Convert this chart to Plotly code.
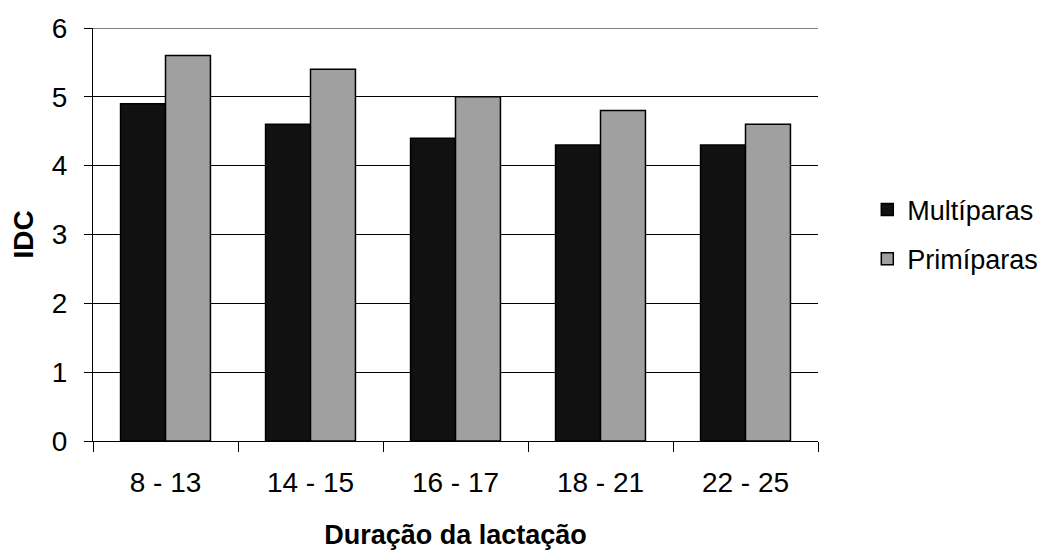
import plotly.graph_objects as go

categories = ["8 - 13", "14 - 15", "16 - 17", "18 - 21", "22 - 25"]
multiparas = [4.9, 4.6, 4.4, 4.3, 4.3]
primiparas = [5.6, 5.4, 5.0, 4.8, 4.6]
y_max = 6

FONT = "Liberation Sans, Arial, sans-serif"

fig = go.Figure()
fig.add_trace(go.Bar(x=categories, y=multiparas, name="Multíparas", legendgroup="m",
                     marker=dict(color="#111111", line=dict(color="#000000", width=1.5))))
fig.add_trace(go.Bar(x=categories, y=primiparas, name="Primíparas", legendgroup="p",
                     marker=dict(color="#a0a0a0", line=dict(color="#000000", width=1.5))))

# top gridline (plotly drops gridlines lying on the plot edge)
fig.add_shape(type="line", xref="paper", x0=0, x1=1, yref="y", y0=y_max, y1=y_max,
              line=dict(color="#000000", width=1), layer="below")

fig.update_layout(
    width=1037, height=542,
    margin=dict(l=85, r=227, t=20, b=109, autoexpand=False),
    paper_bgcolor="white", plot_bgcolor="white",
    barmode="group", bargap=0.38, bargroupgap=0,
    font=dict(family=FONT, size=28, color="#000000"),
    showlegend=True,
    legend=dict(x=1.068, y=0.5, xanchor="left", yanchor="middle",
                font=dict(size=27), tracegroupgap=11, traceorder="grouped"),
)
fig.update_xaxes(
    automargin=False,
    showline=True, linecolor="#000000", linewidth=1,
    ticks="outside", ticklen=10, tickcolor="#000000",
    tickson="boundaries", showgrid=False,
    tickfont=dict(size=28),
    title=dict(text="<b>Duração da lactação</b>", font=dict(size=27), standoff=30),
    ticklabelstandoff=16,
)
fig.update_yaxes(
    automargin=False,
    range=[0, y_max], dtick=1,
    showline=True, linecolor="#000000", linewidth=1,
    ticks="outside", ticklen=8, tickcolor="#000000",
    showgrid=True, gridcolor="#000000", gridwidth=1,
    zeroline=False,
    tickfont=dict(size=28),
    title=dict(text="<b>IDC</b>", font=dict(size=28), standoff=18),
    ticklabelstandoff=11,
)

fig.write_html("out.html")
